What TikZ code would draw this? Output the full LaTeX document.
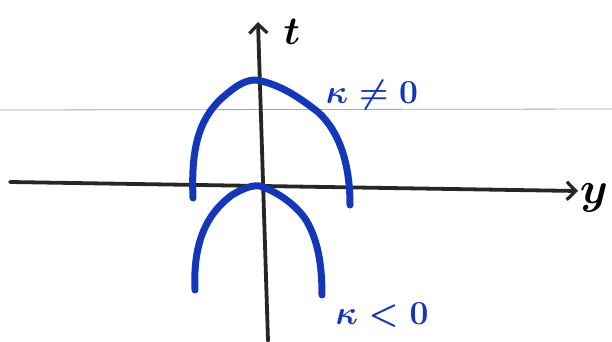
\documentclass[tikz,border=0pt]{standalone}
\usepackage{amsmath}
\usepackage{amssymb}
\usetikzlibrary{arrows.meta}

\definecolor{inkblue}{RGB}{20,55,185}
\definecolor{ruleblue}{RGB}{140,170,235}

\newcommand{\bigsym}[2]{\scalebox{#1}{$\boldsymbol{#2}$}}

\begin{document}
\begin{tikzpicture}[x=1pt, y=-1pt, >={Straight Barb[length=9pt, width=18pt, line width=3.2pt]},
  axis/.style={draw=black!85, line width=3.8pt, line cap=round},
  branch/.style={draw=inkblue, line width=7pt, line cap=round, line join=round},
  curvelabel/.style={text=inkblue, inner sep=0pt, font=\Huge},
  axislabel/.style={inner sep=0pt, font=\Huge}]

\useasboundingbox (0,0) rectangle (612,341);
\fill[white] (0,0) rectangle (612,341);
\draw[ruleblue, line width=0.8pt] (0,110) -- (612,109);

% axes
\coordinate (yL) at (10,182);
\coordinate (yR) at (578,191);
\coordinate (tB) at (268,341);
\coordinate (tT) at (258,22);
\draw[axis, ->] (yL) -- (yR);
\draw[axis, ->] (tB) -- (tT);
\node[axislabel] (ylab) at (594,198) {\bigsym{1.8}{y}};
\node[axislabel] (tlab) at (292,32) {\bigsym{1.6}{t}};

% upper branch
\draw[branch] (193,198) .. controls (191,150) and (198,120) .. (222,98)
  .. controls (238,84) and (246,80) .. (256,80)
  .. controls (280,84) and (300,98) .. (318,112)
  .. controls (340,132) and (350,165) .. (350,205);

% lower branch
\draw[branch] (195,290) .. controls (193,245) and (205,215) .. (232,195)
  .. controls (244,188) and (252,185) .. (260,186)
  .. controls (278,192) and (296,205) .. (306,220)
  .. controls (318,240) and (322,265) .. (322,295);

\node[curvelabel] (kpos) at (372,95) {\bigsym{1.35}{\kappa\neq 0}};
\node[curvelabel] (kneg) at (382,315) {\bigsym{1.35}{\kappa<0}};

\end{tikzpicture}
\end{document}
